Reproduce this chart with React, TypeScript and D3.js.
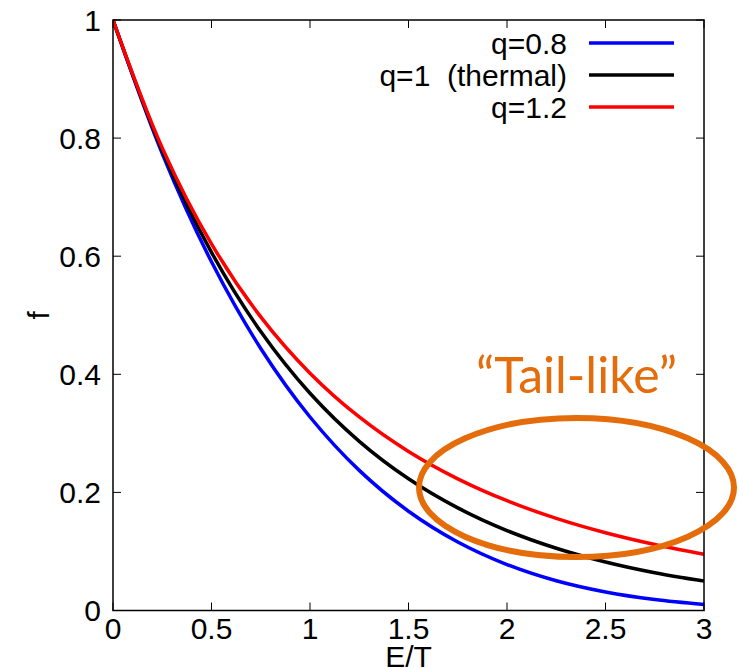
import React from "react";
import * as d3 from "d3";

// Distribution f(E/T) sampled along the energy axis
const energy = [0, 0.25, 0.5, 0.75, 1, 1.25, 1.5, 1.75, 2, 2.25, 2.5, 2.75, 3];
const fQ08 = [1, 0.7738, 0.5905, 0.4437, 0.3277, 0.2373, 0.1681, 0.116, 0.0778, 0.0503, 0.0313, 0.0185, 0.0102];
const fQ10 = [1, 0.7788, 0.6065, 0.4724, 0.3679, 0.2865, 0.2231, 0.1738, 0.1353, 0.1054, 0.0821, 0.0639, 0.0498];
const fQ12 = [1, 0.7835, 0.6209, 0.4972, 0.4019, 0.3277, 0.2693, 0.223, 0.1859, 0.156, 0.1317, 0.1118, 0.0954];

const seriesNames = ["q=0.8", "q=1  (thermal)", "q=1.2"];
const seriesColors = ["#0000ff", "#000000", "#ff0000"];
const seriesValues = [fQ08, fQ10, fQ12];

const xTicks = [0, 0.5, 1, 1.5, 2, 2.5, 3];
const yTicks = [0, 0.2, 0.4, 0.6, 0.8, 1];

const W = 744;
const H = 668;
const M = { left: 113, right: 704, top: 20, bottom: 610.5 };
const FONT = "'Liberation Sans', Arial, Helvetica, sans-serif";
const FS = 30;

export default function App() {
  const x = d3.scaleLinear().domain([0, 3]).range([M.left, M.right]);
  const y = d3.scaleLinear().domain([0, 1]).range([M.bottom, M.top]);
  const line = d3
    .line<number>()
    .x((_, i) => x(energy[i]))
    .y((d) => y(d))
    .curve(d3.curveCatmullRom.alpha(0.5));

  const tickLen = 8;

  return (
    <svg
      width={W}
      height={H}
      style={{ position: "absolute", left: 0, top: 0, background: "#fff" }}
    >
      <defs>
        <clipPath id="plotArea">
          <rect x={M.left} y={M.top - 3} width={M.right - M.left} height={M.bottom - M.top + 3} />
        </clipPath>
      </defs>

      {/* ticks on all four sides, pointing inward */}
      {xTicks.map((t) => (
        <g key={"x" + t}>
          <line x1={x(t)} x2={x(t)} y1={M.bottom} y2={M.bottom - tickLen} stroke="#000" strokeWidth={1} />
          <line x1={x(t)} x2={x(t)} y1={M.top} y2={M.top + tickLen} stroke="#000" strokeWidth={1} />
          <text
            x={x(t)}
            y={639}
            textAnchor="middle"
            fontFamily={FONT}
            fontSize={FS}
            fill="#000"
          >
            {String(t)}
          </text>
        </g>
      ))}
      {yTicks.map((t) => (
        <g key={"y" + t}>
          <line x1={M.left} x2={M.left + tickLen} y1={y(t)} y2={y(t)} stroke="#000" strokeWidth={1} />
          <line x1={M.right} x2={M.right - tickLen} y1={y(t)} y2={y(t)} stroke="#000" strokeWidth={1} />
          <text
            x={101}
            y={y(t)}
            dy="0.36em"
            textAnchor="end"
            fontFamily={FONT}
            fontSize={FS}
            fill="#000"
          >
            {String(t)}
          </text>
        </g>
      ))}

      {/* curves */}
      <g clipPath="url(#plotArea)">
        {seriesValues.map((vals, i) => (
          <path
            key={seriesNames[i]}
            d={line(vals) ?? ""}
            fill="none"
            stroke={seriesColors[i]}
            strokeWidth={3.5}
          />
        ))}
      </g>

      {/* frame */}
      <rect
        x={M.left}
        y={M.top}
        width={M.right - M.left}
        height={M.bottom - M.top}
        fill="none"
        stroke="#000"
        strokeWidth={1.5}
      />

      {/* legend */}
      {seriesNames.map((name, i) => {
        const ly = 43 + i * 32;
        return (
          <g key={"leg" + name}>
            <text
              x={567}
              y={ly}
              dy="0.36em"
              textAnchor="end"
              fontFamily={FONT}
              fontSize={FS}
              fill="#000"
              style={{ whiteSpace: "pre" }}
            >
              {name}
            </text>
            <line x1={589} x2={674} y1={ly} y2={ly} stroke={seriesColors[i]} strokeWidth={3.5} />
          </g>
        );
      })}

      {/* axis titles */}
      <text
        x={(M.left + M.right) / 2}
        y={667}
        textAnchor="middle"
        fontFamily={FONT}
        fontSize={FS}
        fill="#000"
      >
        E/T
      </text>
      <text
        transform={`translate(49, ${y(0.5)}) rotate(-90)`}
        textAnchor="middle"
        fontFamily={FONT}
        fontSize={FS}
        fill="#000"
      >
        f
      </text>

      {/* tail annotation */}
      <ellipse
        cx={576.5}
        cy={487.5}
        rx={157.5}
        ry={69.5}
        fill="none"
        stroke="#e46c0a"
        strokeWidth={6}
      />
      <text
        x={576.5}
        y={393}
        textAnchor="middle"
        fontFamily="Lato, 'Open Sans', sans-serif"
        fontSize={50}
        fill="#e46c0a"
      >
        {"\u201CTail-like\u201D"}
      </text>
    </svg>
  );
}
